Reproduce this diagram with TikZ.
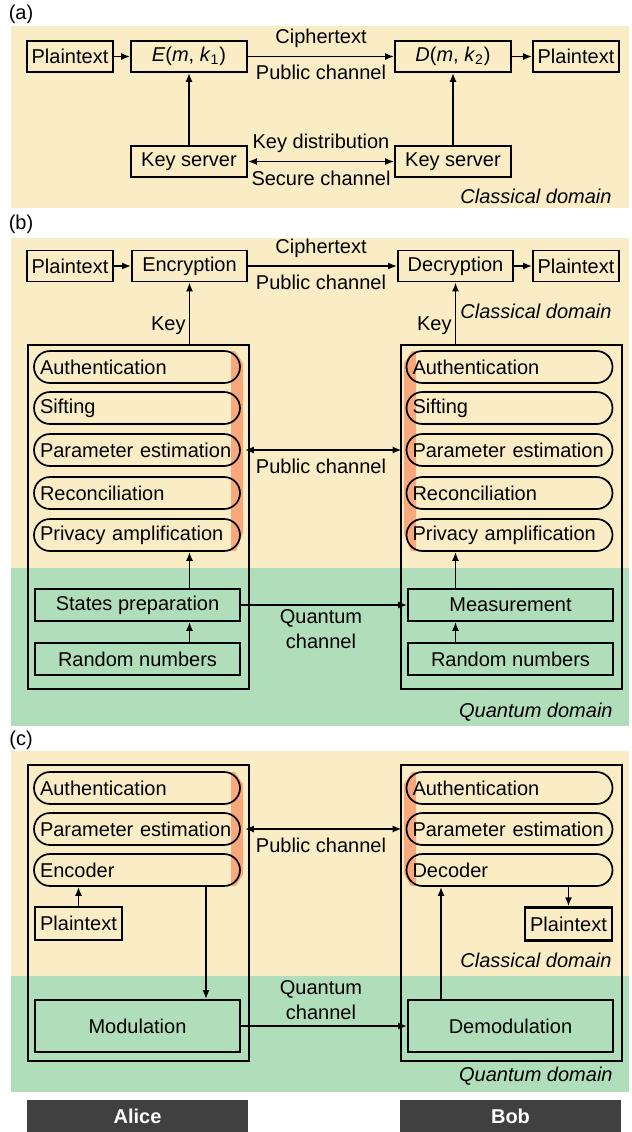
\documentclass[tikz,border=0pt]{standalone}
\usepackage{fontspec}
\setmainfont{Liberation Sans}
\usetikzlibrary{arrows.meta}
\definecolor{classical}{RGB}{250,237,197}
\definecolor{quantum}{RGB}{176,222,186}
\definecolor{stripe}{RGB}{247,168,124}
\definecolor{bar}{RGB}{64,64,64}
\begin{document}
\begin{tikzpicture}[x=0.5pt,y=-0.5pt,
  every node/.style={font=\fontsize{10}{12}\selectfont},
  box/.style={draw, line width=0.85pt, inner sep=0pt, minimum height=15.5pt},
  thickbox/.style={draw, line width=1.2pt, inner sep=0pt, minimum width=43.5pt, minimum height=16.5pt},
  pill/.style={draw, line width=0.85pt, rounded corners=8pt, minimum width=103pt,
    minimum height=16pt, text width=97pt, inner xsep=3pt, inner ysep=0pt, align=left},
  wide/.style={draw, line width=0.85pt, inner sep=0pt, minimum width=102.5pt, minimum height=16pt},
  frame/.style={draw, line width=0.85pt, inner sep=0pt, anchor=north west, minimum width=110.5pt},
  lbl/.style={inner sep=0pt},
  dom/.style={inner sep=0pt, anchor=east, font=\fontsize{10}{12}\selectfont\itshape},
  party/.style={fill=bar, text=white, inner sep=0pt, minimum width=110.5pt, minimum height=16pt,
    font=\fontsize{10}{12}\selectfont\bfseries},
  arr/.style={-{Latex[length=4.5pt,width=3.5pt]}, line width=0.85pt},
  darr/.style={{Latex[length=4.5pt,width=3.5pt]}-{Latex[length=4.5pt,width=3.5pt]}, line width=0.85pt}
]
\useasboundingbox (0,0) rectangle (632,1132);

% ---------------- (a) classical cryptography ----------------
\fill[classical] (11,26) rectangle (629,208);
\node[lbl] (la) at (21,14) {(a)};
\node[box, minimum width=43pt] (a-pt1) at (70,56.5) {Plaintext};
\node[box, minimum width=58pt] (a-enc) at (189,56.5) {\textit{E}(\textit{m}, \textit{k}\textsubscript{1})};
\node[box, minimum width=58pt] (a-dec) at (453,56.5) {\textit{D}(\textit{m}, \textit{k}\textsubscript{2})};
\node[box, minimum width=43pt] (a-pt2) at (576,56.5) {Plaintext};
\node[box, minimum width=58pt] (a-ks1) at (189,161.5) {Key server};
\node[box, minimum width=58pt] (a-ks2) at (453,161.5) {Key server};
\draw[arr] (a-pt1) -- (a-enc);
\draw[arr] (a-enc) -- (a-dec);
\draw[arr] (a-dec) -- (a-pt2);
\draw[arr] (a-ks1) -- (a-enc);
\draw[arr] (a-ks2) -- (a-dec);
\draw[darr] (a-ks1) -- (a-ks2);
\node[lbl] (a-ct) at (321,38) {Ciphertext};
\node[lbl] (a-pc) at (321,72) {Public channel};
\node[lbl] (a-kd) at (321,143) {Key distribution};
\node[lbl] (a-sc) at (321,178) {Secure channel};
\node[dom] (a-cd) at (612,196) {Classical domain};

% ---------------- (b) QKD ----------------
\fill[classical] (11,238) rectangle (629,568);
\fill[quantum] (11,568) rectangle (629,726);
\node[lbl] (lb) at (21,224) {(b)};
\fill[stripe] (231,351) -- (235,351) -- (243,363) -- (243,533) -- (236,551) -- (231,551) -- cycle;
\fill[stripe] (416,351) -- (412,351) -- (404,363) -- (404,533) -- (411,551) -- (416,551) -- cycle;
\node[frame, minimum height=172pt] (b-alice) at (27,344) {};
\node[frame, minimum height=172pt] (b-bob) at (400,344) {};

\node[box, minimum width=43pt] (b-pt1) at (70,266) {Plaintext};
\node[box, minimum width=57.5pt] (b-enc) at (189.5,266) {Encryption};
\node[box, minimum width=57.5pt] (b-dec) at (455.5,266) {Decryption};
\node[box, minimum width=43pt] (b-pt2) at (576,266) {Plaintext};
\draw[arr] (b-pt1) -- (b-enc);
\draw[arr] (b-enc) -- (b-dec);
\draw[arr] (b-dec) -- (b-pt2);
\node[lbl] (b-ct) at (321,248) {Ciphertext};
\node[lbl] (b-pc) at (321,282) {Public channel};
\draw[arr] (b-enc.south |- b-alice.north) -- (b-enc.south);
\draw[arr] (b-dec.south |- b-bob.north) -- (b-dec.south);
\node[lbl, anchor=east] (b-key1) at (186,326) {Key};
\node[lbl, anchor=east] (b-key2) at (452,326) {Key};
\node[dom] (b-cd) at (612,311) {Classical domain};

\node[pill] (b-au1) at (137,367) {Authentication};
\node[pill] (b-si1) at (137,408) {Sifting};
\node[pill] (b-pe1) at (137,450) {Parameter estimation};
\node[pill] (b-re1) at (137,493) {Reconciliation};
\node[pill] (b-pa1) at (137,535) {Privacy amplification};
\node[pill] (b-au2) at (509.5,367) {Authentication};
\node[pill] (b-si2) at (509.5,408) {Sifting};
\node[pill] (b-pe2) at (509.5,450) {Parameter estimation};
\node[pill] (b-re2) at (509.5,493) {Reconciliation};
\node[pill] (b-pa2) at (509.5,535) {Privacy amplification};
\draw[darr] ([xshift=2pt]b-pe1.east) -- ([xshift=-2pt]b-pe2.west);
\node[lbl] (b-pc2) at (321,466) {Public channel};

\node[wide] (b-sp1) at (137.5,605) {States preparation};
\node[wide] (b-rn1) at (137.5,659) {Random numbers};
\node[wide] (b-ms2) at (510.5,605) {Measurement};
\node[wide] (b-rn2) at (510.5,659) {Random numbers};
\draw[arr] (b-enc.south |- b-sp1.north) -- (b-enc.south |- b-pa1.south);
\draw[arr] (b-enc.south |- b-rn1.north) -- (b-enc.south |- b-sp1.south);
\draw[arr] (b-dec.south |- b-ms2.north) -- (b-dec.south |- b-pa2.south);
\draw[arr] (b-dec.south |- b-rn2.north) -- (b-dec.south |- b-ms2.south);
\draw[arr] (b-sp1) -- (b-ms2);
\node[lbl] (b-q1) at (321,618) {Quantum};
\node[lbl] (b-q2) at (321,641) {channel};
\node[dom] (b-qd) at (613,712) {Quantum domain};

% ---------------- (c) quantum direct communication ----------------
\fill[classical] (11,751) rectangle (629,976);
\fill[quantum] (11,976) rectangle (629,1092);
\node[lbl] (lc) at (21,740) {(c)};
\fill[stripe] (231,772) -- (235,772) -- (243,784) -- (243,874) -- (236,886) -- (231,886) -- cycle;
\fill[stripe] (416,772) -- (412,772) -- (404,784) -- (404,874) -- (411,886) -- (416,886) -- cycle;
\node[frame, minimum height=148pt] (c-alice) at (27,764) {};
\node[frame, minimum height=148pt] (c-bob) at (400,764) {};

\node[pill] (c-au1) at (137,788) {Authentication};
\node[pill] (c-pe1) at (137,829) {Parameter estimation};
\node[pill] (c-enc) at (137,870) {Encoder};
\node[pill] (c-au2) at (509.5,788) {Authentication};
\node[pill] (c-pe2) at (509.5,829) {Parameter estimation};
\node[pill] (c-dec) at (509.5,870) {Decoder};
\draw[darr] ([xshift=2pt]c-pe1.east) -- ([xshift=-2pt]c-pe2.west);
\node[lbl] (c-pc) at (321,845) {Public channel};

\node[thickbox] (c-ptA) at (78.5,923.5) {Plaintext};
\node[thickbox] (c-ptB) at (568.5,924) {Plaintext};
\node[wide, minimum height=26pt] (c-mod) at (137.5,1026) {Modulation};
\node[wide, minimum height=26pt] (c-dem) at (510.5,1026) {Demodulation};
\coordinate (c-down) at (206,0);
\coordinate (c-up) at (441,0);
\draw[arr] (c-ptA.north) -- (c-ptA.north |- c-enc.south);
\draw[arr] (c-enc.south -| c-down) -- (c-mod.north -| c-down);
\draw[arr] (c-dem.north -| c-up) -- (c-dec.south -| c-up);
\draw[arr] (c-dec.south -| c-ptB.north) -- (c-ptB.north);
\draw[arr] (c-mod) -- (c-dem);
\node[lbl] (c-q1) at (321,989) {Quantum};
\node[lbl] (c-q2) at (321,1012) {channel};
\node[dom] (c-cd) at (612,960) {Classical domain};
\node[dom] (c-qd) at (613,1076) {Quantum domain};

% ---------------- parties ----------------
\node[party] (alice) at (137.5,1116) {Alice};
\node[party] (bob) at (510.5,1116) {Bob};
\end{tikzpicture}
\end{document}
